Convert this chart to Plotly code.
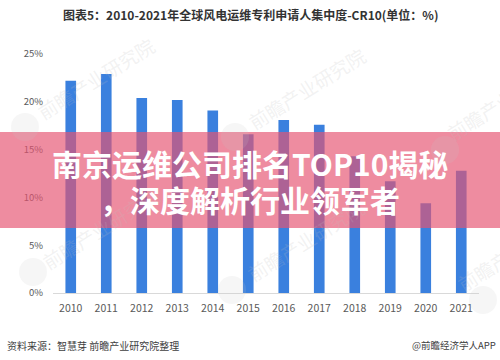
import plotly.graph_objects as go

years = ["2010", "2011", "2012", "2013", "2014", "2015", "2016", "2017", "2018", "2019", "2020", "2021"]
cr10 = [22.2, 22.9, 20.4, 20.2, 19.1, 16.6, 18.1, 17.6, 14.3, 11.7, 9.4, 12.8]
y_ticks = [0, 5, 10, 15, 20, 25]
y_tick_labels = ["0%", "5%", "10%", "15%", "20%", "25%"]

title_text = "图表5：2010-2021年全球风电运维专利申请人集中度-CR10(单位：%)"
overlay_line1 = "南京运维公司排名TOP10揭秘"
overlay_line2 = "，深度解析行业领军者"
source_text = "资料来源：智慧芽 前瞻产业研究院整理"
brand_text = "@前瞻经济学人APP"
watermark_text = "前瞻产业研究院"

W, H = 500, 360
ML, MR, MT, MB = 53, 21, 54, 67
PW, PH = W - ML - MR, H - MT - MB

def px(x):
    return (x - ML) / PW

def py(y):
    return (H - MB - y) / PH

CJK = "Noto Sans CJK SC, Noto Sans, sans-serif"

fig = go.Figure()
fig.add_trace(go.Bar(
    x=years, y=cr10,
    marker=dict(color="rgb(58,128,222)", line=dict(width=0)),
    hoverinfo="skip",
))

annotations = []
# faint watermarks
for (cx, cy) in [(95, 78), (306, 88), (505, 100), (100, 228), (305, 240), (515, 250)]:
    annotations.append(dict(
        x=px(cx), y=py(cy), xref="paper", yref="paper",
        text=watermark_text, showarrow=False, textangle=-32,
        font=dict(family=CJK, size=19, color="rgba(190,190,190,0.2)"),
        xanchor="center", yanchor="middle",
    ))

annotations += [
    dict(x=px(250), y=py(14), xref="paper", yref="paper", text="<b>" + title_text + "</b>",
         showarrow=False, xanchor="center", yanchor="middle",
         font=dict(family=CJK, size=12, color="#333333")),
    dict(x=px(250), y=py(163), xref="paper", yref="paper", text="<b>" + overlay_line1 + "</b>",
         showarrow=False, xanchor="center", yanchor="middle",
         font=dict(family=CJK, size=30, color="white")),
    dict(x=px(250), y=py(199), xref="paper", yref="paper", text="<b>" + overlay_line2 + "</b>",
         showarrow=False, xanchor="center", yanchor="middle",
         font=dict(family=CJK, size=30, color="white")),
    dict(x=px(5), y=py(345), xref="paper", yref="paper", text=source_text,
         showarrow=False, xanchor="left", yanchor="middle",
         font=dict(family=CJK, size=10, color="#404040")),
    dict(x=px(498), y=py(345), xref="paper", yref="paper", text=brand_text,
         showarrow=False, xanchor="right", yanchor="middle",
         font=dict(family=CJK, size=9.5, color="#404040")),
]

shapes = [
    dict(type="rect", xref="paper", yref="paper", x0=px(0), x1=px(W), y0=py(228), y1=py(132),
         fillcolor="rgba(230,84,113,0.67)", line=dict(width=0), layer="above"),
]
# faint watermark logos
for (lx, ly) in [(25, 127), (235, 137), (33, 272), (232, 290), (483, 300), (445, 150)]:
    shapes.append(dict(type="circle", xref="paper", yref="paper",
                       x0=px(lx - 14), x1=px(lx + 14), y0=py(ly + 14), y1=py(ly - 14),
                       fillcolor="rgba(200,200,200,0.16)", line=dict(width=0), layer="above"))

fig.update_layout(
    width=W, height=H,
    margin=dict(l=ML, r=MR, t=MT, b=MB, pad=0),
    paper_bgcolor="white", plot_bgcolor="white",
    showlegend=False,
    bargap=0.7,
    annotations=annotations,
    shapes=shapes,
    xaxis=dict(
        type="category", showgrid=False, zeroline=False,
        showline=True, linecolor="#D9D9D9", linewidth=1,
        ticks="", tickfont=dict(family=CJK, size=10.5, color="#595959"),
        ticklabelstandoff=5,
    ),
    yaxis=dict(
        range=[0, 25], tickvals=y_ticks, ticktext=y_tick_labels,
        showgrid=False, zeroline=False, showline=False, ticks="",
        tickfont=dict(family=CJK, size=9.5, color="#595959"),
        ticklabelstandoff=9,
    ),
)

fig.write_html(
    "out.html",
    config={"displayModeBar": False, "staticPlot": True},
    post_script="document.body.style.margin='0';document.body.style.overflow='hidden';",
)
